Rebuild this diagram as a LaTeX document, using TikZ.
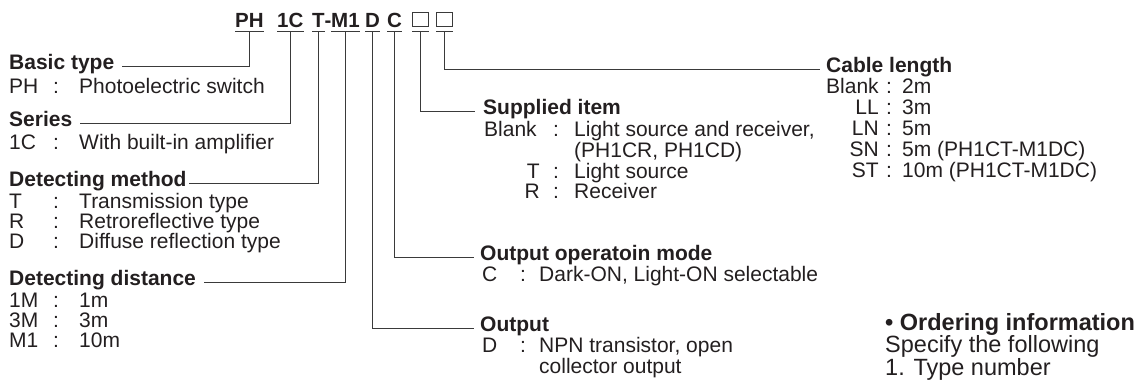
\documentclass[tikz,border=0pt]{standalone}
\usepackage{fontspec}
\setmainfont{Liberation Sans}
\definecolor{ink}{HTML}{231F20}
\definecolor{wire}{HTML}{3A3A3A}
\newcommand\lentry[7]{%
  \node[txt,anchor=base west] (#1c) at (#3,#2) {#4};
  \node[txt,anchor=base west] (#1s) at (#5,#2) {:};
  \node[txt,anchor=base west] (#1d) at (#6,#2) {#7};}
\newcommand\rentry[7]{%
  \node[txt,anchor=base east] (#1c) at (#3,#2) {#4};
  \node[txt,anchor=base west] (#1s) at (#5,#2) {:};
  \node[txt,anchor=base west] (#1d) at (#6,#2) {#7};}
\begin{document}
\begin{tikzpicture}[x=1pt,y=-1pt,
  txt/.style={inner sep=0pt,text=ink,font=\fontsize{21}{21}\selectfont},
  head/.style={txt,font=\fontsize{21}{21}\selectfont\bfseries},
  big/.style={inner sep=0pt,text=ink,font=\fontsize{23.5}{23}\selectfont},
  code/.style={inner sep=0pt,text=ink,font=\fontsize{20.5}{21}\selectfont\bfseries,anchor=base west},
  lead/.style={draw=wire,line width=1.3pt},
  uline/.style={draw=wire,line width=1.6pt},
  cbox/.style={draw=wire,line width=0.8pt,minimum width=16pt,minimum height=14pt,inner sep=0pt,anchor=south west}]
\useasboundingbox (0,0) rectangle (1141,383);
% ---- type code ----
\node[code] (ph) at (235,27) {PH};
\node[code] (s1c) at (277,27) {1C};
\node[code] (st) at (312,27) {T};
\node[code] (dash) at (324.5,27) {-};
\node[code] (sm1) at (331,27) {M1};
\node[code] (sd) at (365,27) {D};
\node[code] (sc) at (387,27) {C};
\node[cbox] (b1) at (412,27) {};
\node[cbox] (b2) at (436,27) {};
\foreach \n in {ph,s1c,st,sm1,sd,sc}{
  \path[uline] ([yshift=-4.5pt]\n.base west) -- ([yshift=-4.5pt]\n.base east);}
\path[uline] ([yshift=-4.5pt]b1.south west) -- ([yshift=-4.5pt]b1.south east);
\path[uline] ([yshift=-4.5pt]b2.south west) -- ([yshift=-4.5pt]b2.south east);
% ---- left column ----
\node[head,anchor=base west] (hbasic) at (9,69) {Basic type};
\lentry{pha}{93}{9}{PH}{53}{79}{Photoelectric switch}
\node[head,anchor=base west] (hseries) at (9,126) {Series};
\lentry{ca}{149}{9}{1C}{53}{79}{With built-in amplifier}
\node[head,anchor=base west] (hmethod) at (9,186) {Detecting method};
\lentry{ta}{208}{9}{T}{53}{79}{Transmission type}
\lentry{ra}{228}{9}{R}{53}{79}{Retroreflective type}
\lentry{da}{248}{9}{D}{53}{79}{Diffuse reflection type}
\node[head,anchor=base west] (hdist) at (9,285) {Detecting distance};
\lentry{ma}{307}{9}{1M}{53}{79}{1m}
\lentry{mb}{327}{9}{3M}{53}{79}{3m}
\lentry{mc}{347}{9}{M1}{53}{79}{10m}
% ---- middle column ----
\node[head,anchor=base west] (hsupp) at (483,114) {Supplied item};
\lentry{sa}{136}{484}{Blank}{553}{574}{Light source and receiver,}
\node[txt,anchor=base west] (sa2) at (574,157) {(PH1CR, PH1CD)};
\rentry{sb}{178}{540}{T}{553}{574}{Light source}
\rentry{sr}{198}{540}{R}{553}{574}{Receiver}
\node[head,anchor=base west] (hmode) at (480,260) {Output operatoin mode};
\lentry{oa}{281}{482}{C}{520}{539}{Dark-ON, Light-ON selectable}
\node[head,anchor=base west] (hout) at (480,331) {Output};
\lentry{ob}{352}{482}{D}{520}{539}{NPN transistor, open}
\node[txt,anchor=base west] (ob2) at (539,373) {collector output};
% ---- right column ----
\node[head,anchor=base west] (hcable) at (826,72) {Cable length};
\lentry{la}{93}{826}{Blank}{886}{902}{2m}
\rentry{lb}{114}{879}{LL}{886}{902}{3m}
\rentry{lc}{135}{879}{LN}{886}{902}{5m}
\rentry{ld}{156}{879}{SN}{886}{902}{5m (PH1CT-M1DC)}
\rentry{le}{177}{879}{ST}{886}{902}{10m (PH1CT-M1DC)}
\node[big,font=\fontsize{23.5}{23}\selectfont\bfseries,anchor=base west] (hord) at (885,330) {\textbullet\ Ordering information};
\node[big,anchor=base west] (spec) at (885,352) {Specify the following};
\node[big,anchor=base west] (tnum) at (885,375) {1. Type number};
% ---- leaders ----
\path[lead] ([yshift=-4.5pt]ph.base) |- ([xshift=8pt]hbasic.mid east);
\path[lead] ([yshift=-4.5pt]s1c.base) |- ([xshift=8pt]hseries.mid east);
\path[lead] ([yshift=-4.5pt]st.base) |- ([xshift=2pt]hmethod.mid east);
\path[lead] ([yshift=-4.5pt]sm1.base) |- ([xshift=8pt]hdist.mid east);
\path[lead] ([yshift=-4.5pt]sd.base) |- ([xshift=-6pt]hout.mid west);
\path[lead] ([yshift=-4.5pt]sc.base) |- ([xshift=-6pt]hmode.mid west);
\path[lead] ([yshift=-4.5pt]b1.south) |- ([xshift=-8pt]hsupp.mid west);
\path[lead] ([yshift=-4.5pt]b2.south) |- ([xshift=-6pt]hcable.mid west);
\end{tikzpicture}
\end{document}
